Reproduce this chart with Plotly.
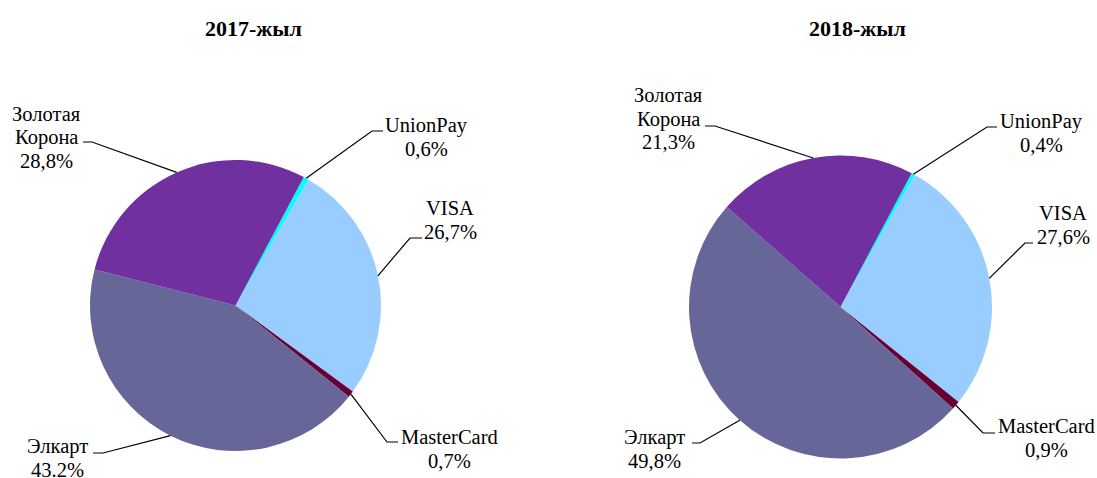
import math
import plotly.graph_objects as go

W, H = 1097, 478

categories = ["UnionPay", "VISA", "MasterCard", "Элкарт", "Золотая<br>Корона"]
values_2017 = [0.6, 26.7, 0.7, 43.2, 28.8]
values_2018 = [0.4, 27.6, 0.9, 49.8, 21.3]
pct_text_2017 = ["0,6%", "26,7%", "0,7%", "43.2%", "28,8%"]
pct_text_2018 = ["0,4%", "27,6%", "0,9%", "49,8%", "21,3%"]
titles = ["2017-жыл", "2018-жыл"]

colors = ["#00FFFF", "#99CCFF", "#660033", "#666699", "#7030A0"]
FONT = "Liberation Serif, Times New Roman, serif"
ROTATION = 28
LINE_STEP = 23.5


def px(x):
    return x / W


def py(y):
    return 1 - y / H


# pie geometry in pixels: centre x, centre y, radius
pies = [
    dict(cx=235.5, cy=305.5, r=145.5, title_x=253.5),
    dict(cx=840.5, cy=307.0, r=151.5, title_x=857.5),
]

# label block centres, leader elbow and leader end (pixels)
label_layout = [
    [
        ((427, 137), (372, 131), (383, 131)),
        ((450, 220), (410, 238), (422, 238)),
        ((449, 449), (387, 442), (398, 442)),
        ((57, 458), (103, 453), (93, 453)),
        ((46, 137), (92, 142), (83, 142)),
    ],
    [
        ((1041, 133), (987, 127), (997, 127)),
        ((1063, 225), (1025, 243), (1033, 243)),
        ((1046, 438), (983, 433), (995, 433)),
        ((654, 449), (700, 443), (692, 443)),
        ((668, 119), (715, 126), (705, 126)),
    ],
]

fig = go.Figure()
annotations = []
shapes = []

for i, (vals, pct) in enumerate([(values_2017, pct_text_2017), (values_2018, pct_text_2018)]):
    p = pies[i]
    fig.add_trace(go.Pie(
        labels=categories, values=vals, sort=False, direction="clockwise",
        rotation=ROTATION, textinfo="none", hoverinfo="label+percent",
        marker=dict(colors=colors, line=dict(width=0)),
        domain=dict(x=[px(p["cx"] - p["r"]), px(p["cx"] + p["r"])],
                    y=[py(p["cy"] + p["r"]), py(p["cy"] - p["r"])]),
        showlegend=False,
    ))
    annotations.append(dict(
        text=f"<b>{titles[i]}</b>", x=px(p["title_x"]), y=py(28),
        xref="paper", yref="paper", showarrow=False,
        xanchor="center", yanchor="middle",
        font=dict(family=FONT, size=22, color="#000000"),
    ))

    total = sum(vals)
    start = ROTATION
    for j, v in enumerate(vals):
        mid = math.radians(start + v / total * 360 / 2)
        start += v / total * 360
        sx = p["cx"] + p["r"] * math.sin(mid)
        sy = p["cy"] - p["r"] * math.cos(mid)
        (lx, ly), (ex, ey), (tx, ty) = label_layout[i][j]
        shapes.append(dict(
            type="path", xref="paper", yref="paper",
            path=f"M {px(sx)},{py(sy)} L {px(ex)},{py(ey)} L {px(tx)},{py(ty)}",
            line=dict(color="#000000", width=1.2),
        ))
        lines = categories[j].split("<br>") + [pct[j]]
        n = len(lines)
        for k, line in enumerate(lines):
            annotations.append(dict(
                text=line, x=px(lx), y=py(ly + (k - (n - 1) / 2) * LINE_STEP),
                xref="paper", yref="paper", showarrow=False,
                xanchor="center", yanchor="middle", align="center",
                font=dict(family=FONT, size=20.5, color="#000000"),
            ))

fig.update_layout(
    width=W, height=H,
    margin=dict(l=0, r=0, t=0, b=0),
    paper_bgcolor="#FFFFFF", plot_bgcolor="#FFFFFF",
    annotations=annotations, shapes=shapes,
)

fig.write_html("out.html", config=dict(displayModeBar=False),
               post_script="document.body.style.margin='0';document.body.style.overflow='hidden';")
